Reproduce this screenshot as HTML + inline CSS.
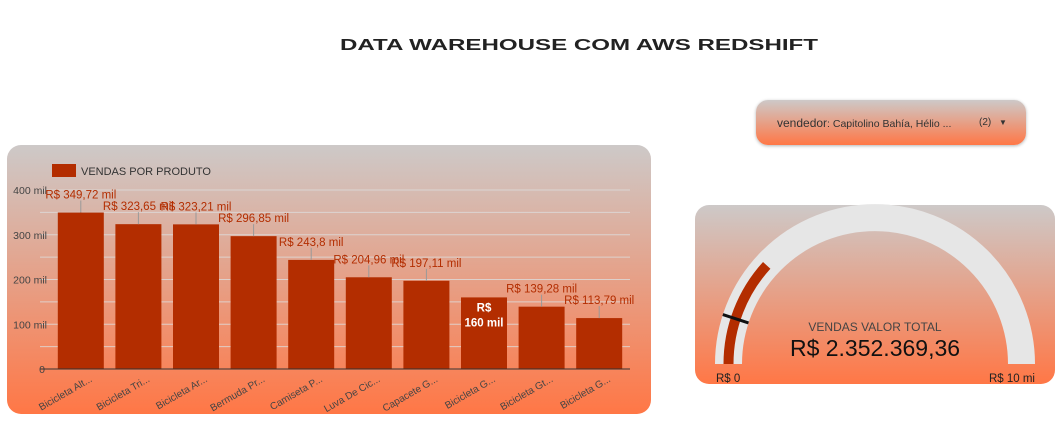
<!DOCTYPE html>
<html><head><meta charset="utf-8"><style>
body{margin:0;width:1061px;height:432px;background:#fff;font-family:"Liberation Sans",sans-serif;position:relative;overflow:hidden}
.card{position:absolute;border-radius:14px;background:linear-gradient(#cdc9c8,#ff7746)}
</style></head><body>
<svg style="position:absolute;left:0;top:0" width="1061" height="70"><text x="340" y="50" textLength="478" lengthAdjust="spacingAndGlyphs" font-family="Liberation Sans" font-weight="bold" font-size="16" fill="#222">DATA WAREHOUSE COM AWS REDSHIFT</text></svg>

<div class="card" style="left:756px;top:100px;width:270px;height:45px;border-radius:12px;box-shadow:0 1px 3px rgba(0,0,0,.3)">
<div style="position:absolute;left:21px;top:16px;font-size:12px;color:#333;white-space:nowrap">vendedor<span style="font-size:10.5px">: Capitolino Bahía, Hélio ...</span><span style="position:absolute;left:202px;font-size:10px;top:1px">(2)</span><span style="position:absolute;left:222px;font-size:8px;top:2px">▼</span></div>
</div>

<div class="card" style="left:7px;top:145px;width:644px;height:269px"></div>
<svg id="bars" style="position:absolute;left:0;top:0" width="660" height="432"></svg>

<div class="card" style="left:695px;top:205px;width:360px;height:179px"></div>
<svg id="gauge" style="position:absolute;left:0;top:0" width="1061" height="432"></svg>

<script>
const categories=["Bicicleta Alt...","Bicicleta Tri...","Bicicleta Ar...","Bermuda Pr...","Camiseta P...","Luva De Cic...","Capacete G...","Bicicleta G...","Bicicleta Gt...","Bicicleta G..."];
const values=[349.72,323.65,323.21,296.85,243.8,204.96,197.11,160,139.28,113.79];
const valueLabels=["R$ 349,72 mil","R$ 323,65 mil","R$ 323,21 mil","R$ 296,85 mil","R$ 243,8 mil","R$ 204,96 mil","R$ 197,11 mil","R$ 160 mil","R$ 139,28 mil","R$ 113,79 mil"];
const yTicks=[0,100,200,300,400];
const yTickLabels=["0","100 mil","200 mil","300 mil","400 mil"];
const gaugeValue=2352369.36, gaugeMax=10000000, gaugeTarget=1000000;

const NS="http://www.w3.org/2000/svg";
function mk(p,t,a){const e=document.createElementNS(NS,t);for(const k in a)e.setAttribute(k,a[k]);p.appendChild(e);return e;}
const svg=document.getElementById('bars');
const x0=52,x1=628,y0=369,yTop=190;
const y=v=>y0-(v/400)*(y0-yTop);
const step=(x1-x0)/categories.length;
const bx=i=>x0+i*step+(step-46)/2;
// gridlines
for(let v=50;v<=400;v+=50){const g=mk(svg,'line',{x1:40,x2:630,y1:y(v),y2:y(v),stroke:'#ddd','stroke-width':1,opacity:0.8});
}
yTicks.forEach((v,i)=>{const t=mk(svg,'text',{x:i?47:45,y:y(v)+4,'text-anchor':'end','font-size':10.5,fill:'#444'});t.textContent=yTickLabels[i];
});
// legend
const lg=mk(svg,'rect',{x:52,y:164,width:24,height:13,fill:'#b32d00'});

const lt=mk(svg,'text',{x:81,y:175,'font-size':11,fill:'#333'});lt.textContent='VENDAS POR PRODUTO';

values.forEach((v,i)=>{
 const r=mk(svg,'rect',{x:bx(i),y:y(v),width:46,height:y0-y(v),fill:'#b32d00'});
 
 const cx=bx(i)+23;
 if(i===7){
  const a=mk(svg,'text',{x:cx,y:y(v)+14,'text-anchor':'middle','font-size':11.5,'font-weight':'bold',fill:'#fff'});a.textContent='R$';
  
  const b=mk(svg,'text',{x:cx,y:y(v)+29,'text-anchor':'middle','font-size':11.5,'font-weight':'bold',fill:'#fff'});b.textContent='160 mil';
  
 }else{
  const l=mk(svg,'line',{x1:cx,x2:cx,y1:y(v)-12,y2:y(v),stroke:'#999'});
  
  const t=mk(svg,'text',{x:cx,y:y(v)-14,'text-anchor':'middle','font-size':11.5,fill:'#b32d00'});t.textContent=valueLabels[i];
  
 }
 const c=mk(svg,'text',{x:cx+12,y:y0+12,'text-anchor':'end','font-size':10,fill:'#444',transform:`rotate(-30 ${cx+12} ${y0+12})`});c.textContent=categories[i];
 
});
const ax=mk(svg,'line',{x1:40,x2:630,y1:y0,y2:y0,stroke:'#333','stroke-width':1});


// gauge
const gs=document.getElementById('gauge');
const gcx=875,gcy=364;
function arcPath(r,a0,a1){const p=a=>[gcx+r*Math.cos(a),gcy-r*Math.sin(a)];const s=p(a0),e=p(a1);return `M${s[0]},${s[1]} A${r},${r} 0 0 1 ${e[0]},${e[1]}`;}
const bg=mk(gs,'path',{d:arcPath(146.5,Math.PI,0),stroke:'#e6e6e6','stroke-width':27,fill:'none'});

const frac=gaugeValue/gaugeMax;
const va=mk(gs,'path',{d:arcPath(146.5,Math.PI,Math.PI*(1-frac)),stroke:'#b32d00','stroke-width':10,fill:'none'});

const ta=Math.PI*(1-gaugeTarget/gaugeMax);
const tm=mk(gs,'line',{x1:gcx+133*Math.cos(ta),y1:gcy-133*Math.sin(ta),x2:gcx+160*Math.cos(ta),y2:gcy-160*Math.sin(ta),stroke:'#111','stroke-width':3});

const gt=mk(gs,'text',{x:gcx,y:331,'text-anchor':'middle','font-size':12,fill:'#444'});gt.textContent='VENDAS VALOR TOTAL';

const gv=mk(gs,'text',{x:gcx,y:356,'text-anchor':'middle','font-size':23,fill:'#111'});gv.textContent='R$ 2.352.369,36';

const gmin=mk(gs,'text',{x:716,y:382,'font-size':11.5,fill:'#222'});gmin.textContent='R$ 0';

const gmax=mk(gs,'text',{x:1035,y:382,'text-anchor':'end','font-size':11.5,fill:'#222'});gmax.textContent='R$ 10 mi';

</script>
</body></html>
